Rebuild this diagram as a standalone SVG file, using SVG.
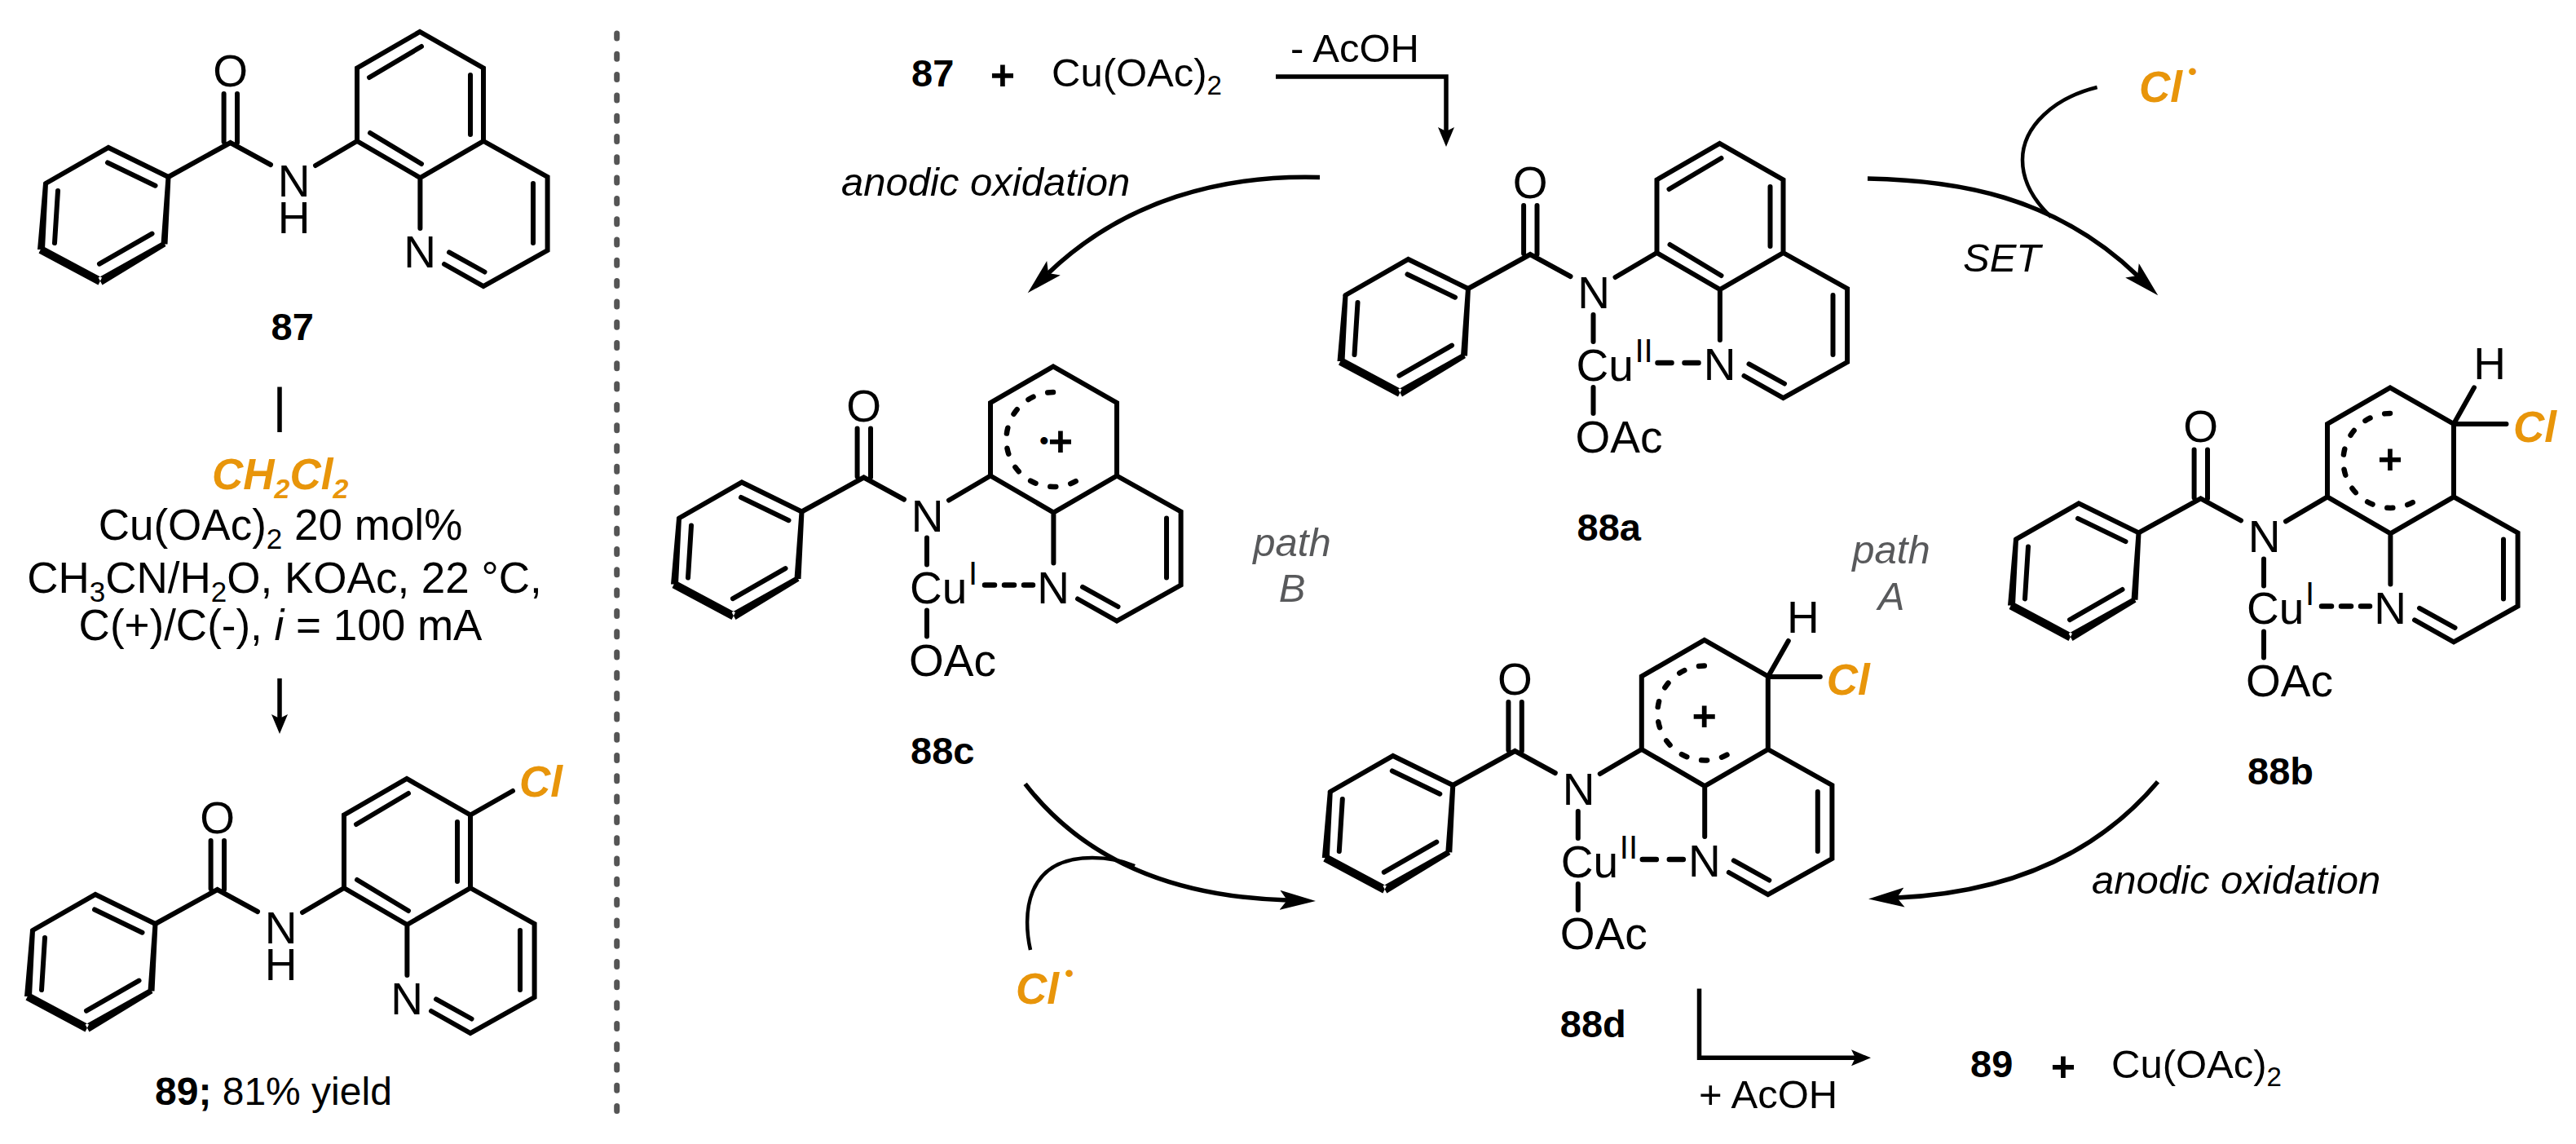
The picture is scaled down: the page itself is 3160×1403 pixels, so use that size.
<svg xmlns="http://www.w3.org/2000/svg" xmlns:xlink="http://www.w3.org/1999/xlink" width="3160" height="1403" viewBox="0 0 3160 1403">
<style>
text{font-family:"Liberation Sans",Arial,sans-serif;fill:#000}
.a{font-size:55px}
.m{text-anchor:middle}
.r{font-size:49px}
.c{font-size:53px}
.b{font-size:47px;font-weight:bold}
.p{font-size:52px;font-weight:bold;text-anchor:middle}
.i{font-size:49px;font-style:italic}
.g{font-size:49px;font-style:italic;fill:#58595b;text-anchor:middle}
.o{font-size:53px;font-style:italic;font-weight:bold;fill:#e8950a}
.o tspan{fill:#e8950a}
.sup{font-size:40px}
.bond{fill:none;stroke:#000;stroke-width:6;stroke-linecap:round;stroke-linejoin:miter}
.blk{fill:#000;stroke:none}
.dsh{fill:none;stroke:#000;stroke-width:6.5;stroke-linecap:round}
.arc{fill:none;stroke:#000;stroke-width:6.5;stroke-linecap:round;stroke-dasharray:7 18.3}
.cn{fill:none;stroke:#000;stroke-width:5.5;stroke-linejoin:miter}
.cn2{fill:none;stroke:#000;stroke-width:4.5}
.div{fill:none;stroke:#555;stroke-width:7;stroke-linecap:round;stroke-dasharray:6 19.3}
</style>
<defs>
<marker id="hs" markerUnits="userSpaceOnUse" markerWidth="26" markerHeight="22" viewBox="0 0 26 22" refX="5" refY="10" orient="auto"><path d="M0,0L24,10L0,20L5,10z" fill="#000"/></marker>
<marker id="hl" markerUnits="userSpaceOnUse" markerWidth="46" markerHeight="26" viewBox="0 0 46 26" refX="9" refY="12" orient="auto"><path d="M0,0L44,12L0,24L9,12z" fill="#000"/></marker>
<g id="benzoyl">
<path class="bond" d="M56,225L133,181L206.5,217"/>
<path class="bond" d="M132,199.5L190.5,227.7M186.5,286.6L122,323.7M67,298L71,234"/>
<path class="blk" d="M52,301.5L125,340.5L120.5,349.5L47.5,310.5zM120.7,340.5L125.5,349.5L203.5,302L200,296zM197.5,299L205.5,299.4L209.5,217L203.5,217zM53,225L59,225L55,306L46,306z"/>
<path class="bond" d="M206.5,217L282.6,175L332,202M274.6,115V174M291,115V175M387,203L438,173"/>
</g>
<g id="quin-arom">
<path class="bond" d="M438,173V83.5L515,39L593,83.5V173L515.4,218L438,173M593,173L671.6,217V307L593,351L545,324M515.4,218V280"/>
<path class="bond" d="M453,95L517,57M577,92V165M454,163L517,201M654,225V298M551,309.4L594.5,333.5"/>
</g>
<g id="quin-cat">
<path class="bond" d="M438,173V83.5L515,39L593,83.5V173L515.4,218L438,173M593,173L671.6,217V307L593,351L545,324M515.4,218V280"/>
<path class="bond" d="M654,225V298M551,309.4L594.5,333.5"/>
<path class="arc" d="M515,70.5A58,58 0 1 0 557,169"/>
</g>
<path id="cu-bonds" class="bond" d="M360,249V282M360,338V370"/>
</defs>

<g id="connectors">
<path class="div" d="M756.7,41V1366"/>
<path class="cn" d="M343,474.5V530"/>
<path class="cn" marker-end="url(#hs)" d="M343,832V881"/>
<path class="cn" marker-end="url(#hs)" d="M1565,94H1774V161"/>
<path class="cn" marker-end="url(#hl)" d="M1619,217.5C1500,214 1380,245 1286,335"/>
<path class="cn" marker-end="url(#hl)" d="M2291,219C2400,221 2520,240 2622,338"/>
<path class="cn2" d="M2572.6,107C2520,120 2481,155 2481,196C2481,225 2497,248 2516,266"/>
<path class="cn" marker-end="url(#hl)" d="M1257.6,961.4C1330,1055 1440,1100 1579,1104"/>
<path class="cn2" d="M1264,1165C1255,1125 1255,1052 1340,1052C1360,1052 1378,1056 1392,1062"/>
<path class="cn" marker-end="url(#hl)" d="M2647,958.7C2570,1050 2460,1095 2327,1101"/>
<path class="cn" marker-end="url(#hs)" d="M2084.5,1212.6V1297.3H2276"/>
</g>

<g id="n87">
<use xlink:href="#benzoyl" href="#benzoyl"/><use xlink:href="#quin-arom" href="#quin-arom"/>
<text class="a m" x="282.6" y="106">O</text>
<text class="a m" x="360.7" y="241">N</text>
<text class="a m" x="360.7" y="286">H</text>
<text class="a m" x="515" y="328">N</text>
<text class="b m" x="358.7" y="416.5">87</text>
</g>

<g id="conditions">
<text class="o" x="260" y="600">CH<tspan font-size="34" dy="11">2</tspan><tspan dy="-11">Cl</tspan><tspan font-size="34" dy="11">2</tspan></text>
<text class="c m" x="344" y="661.6">Cu(OAc)<tspan font-size="35" dy="11">2</tspan><tspan dy="-11"> 20 mol%</tspan></text>
<text class="c m" x="349" y="727">CH<tspan font-size="35" dy="11">3</tspan><tspan dy="-11">CN/H</tspan><tspan font-size="35" dy="11">2</tspan><tspan dy="-11">O, KOAc, 22 °C,</tspan></text>
<text class="c m" x="344" y="785">C(+)/C(-), <tspan font-style="italic">i</tspan> = 100 mA</text>
</g>

<g id="n89">
<g transform="translate(-16,916)"><use xlink:href="#benzoyl" href="#benzoyl"/><use xlink:href="#quin-arom" href="#quin-arom"/>
<text class="a m" x="282.6" y="106">O</text>
<text class="a m" x="360.7" y="241">N</text>
<text class="a m" x="360.7" y="286">H</text>
<text class="a m" x="515" y="328">N</text>
</g>
<path class="bond" d="M577,999.5L629,970"/>
<text class="o" x="637" y="977">Cl</text>
<text x="190" y="1355" style="font-size:48px"><tspan font-weight="bold">89;</tspan> 81% yield</text>
</g>

<g id="equation-top">
<text class="b" x="1118" y="106">87</text>
<text class="p" x="1230" y="110">+</text>
<text class="r" x="1290" y="106">Cu(OAc)<tspan font-size="33" dy="10">2</tspan></text>
<text class="r" x="1583" y="76">- AcOH</text>
</g>

<g id="n88a" transform="translate(1594.5,137)">
<use xlink:href="#benzoyl" href="#benzoyl"/><use xlink:href="#quin-arom" href="#quin-arom"/><use xlink:href="#cu-bonds" href="#cu-bonds"/>
<text class="a m" x="282.6" y="106">O</text>
<text class="a m" x="360.7" y="241">N</text>
<text class="a" x="339" y="329.5">Cu</text>
<text class="sup" x="411" y="307">II</text>
<path class="dsh" d="M439,308H456M472,308H489"/>
<text class="a m" x="515" y="329">N</text>
<text class="a" x="338" y="418">OAc</text>
<text class="b" x="340" y="526">88a</text>
</g>

<g id="n88b" transform="translate(2417,436.4)">
<use xlink:href="#benzoyl" href="#benzoyl"/><use xlink:href="#quin-cat" href="#quin-cat"/><use xlink:href="#cu-bonds" href="#cu-bonds"/>
<text class="a m" x="282.6" y="106">O</text>
<text class="a m" x="360.7" y="241">N</text>
<text class="a" x="339" y="329">Cu</text>
<text class="sup" x="411" y="306">I</text>
<path class="dsh" d="M431,307H443M455,307H467M479,307H490"/>
<text class="a m" x="515" y="329">N</text>
<text class="a" x="338" y="418">OAc</text>
<text class="b" x="340" y="526">88b</text>
<text class="p" x="515" y="145">+</text>
<path class="bond" d="M593,83.5L618,39M593,83.5H657.5"/>
<text class="a m" x="637" y="28.6">H</text>
<text class="o" x="666" y="106">Cl</text>
</g>

<g id="n88c" transform="translate(777,410.5)">
<use xlink:href="#benzoyl" href="#benzoyl"/><use xlink:href="#quin-cat" href="#quin-cat"/><use xlink:href="#cu-bonds" href="#cu-bonds"/>
<text class="a m" x="282.6" y="106">O</text>
<text class="a m" x="360.7" y="241">N</text>
<text class="a" x="339" y="329">Cu</text>
<text class="sup" x="411" y="306">I</text>
<path class="dsh" d="M431,307H443M455,307H467M479,307H490"/>
<text class="a m" x="515" y="329">N</text>
<text class="a" x="338" y="418">OAc</text>
<text class="b" x="340" y="526">88c</text>
<text x="498" y="141" style="font-size:33px">•</text>
<text class="p" x="524" y="148">+</text>
</g>

<g id="n88d" transform="translate(1575.8,746)">
<use xlink:href="#benzoyl" href="#benzoyl"/><use xlink:href="#quin-cat" href="#quin-cat"/><use xlink:href="#cu-bonds" href="#cu-bonds"/>
<text class="a m" x="282.6" y="106">O</text>
<text class="a m" x="360.7" y="241">N</text>
<text class="a" x="339" y="329.5">Cu</text>
<text class="sup" x="411" y="307">II</text>
<path class="dsh" d="M439,308H456M472,308H489"/>
<text class="a m" x="515" y="329">N</text>
<text class="a" x="338" y="418">OAc</text>
<text class="b" x="338" y="526">88d</text>
<text class="p" x="515" y="150">+</text>
<path class="bond" d="M593,84L618,40M593,84H657"/>
<text class="a m" x="636" y="30">H</text>
<text class="o" x="665" y="106">Cl</text>
</g>

<g id="labels">
<text class="i" x="1032" y="240">anodic oxidation</text>
<text class="i" x="2566" y="1096">anodic oxidation</text>
<text class="i" x="2408" y="332.6">SET</text>
<text class="g" x="1585" y="681.7">path</text>
<text class="g" x="1585" y="738">B</text>
<text class="g" x="2320" y="690.6">path</text>
<text class="g" x="2320" y="748">A</text>
<text class="o" x="2624" y="125">Cl<tspan x="2684" y="98" font-size="30">•</tspan></text>
<text class="o" x="1246" y="1231">Cl<tspan x="1306" y="1204" font-size="30">•</tspan></text>
</g>

<g id="equation-bottom">
<text class="b" x="2417" y="1321">89</text>
<text class="p" x="2531" y="1326">+</text>
<text class="r" x="2590" y="1322">Cu(OAc)<tspan font-size="33" dy="10">2</tspan></text>
<text class="r" x="2084" y="1359">+ AcOH</text>
</g>
</svg>
